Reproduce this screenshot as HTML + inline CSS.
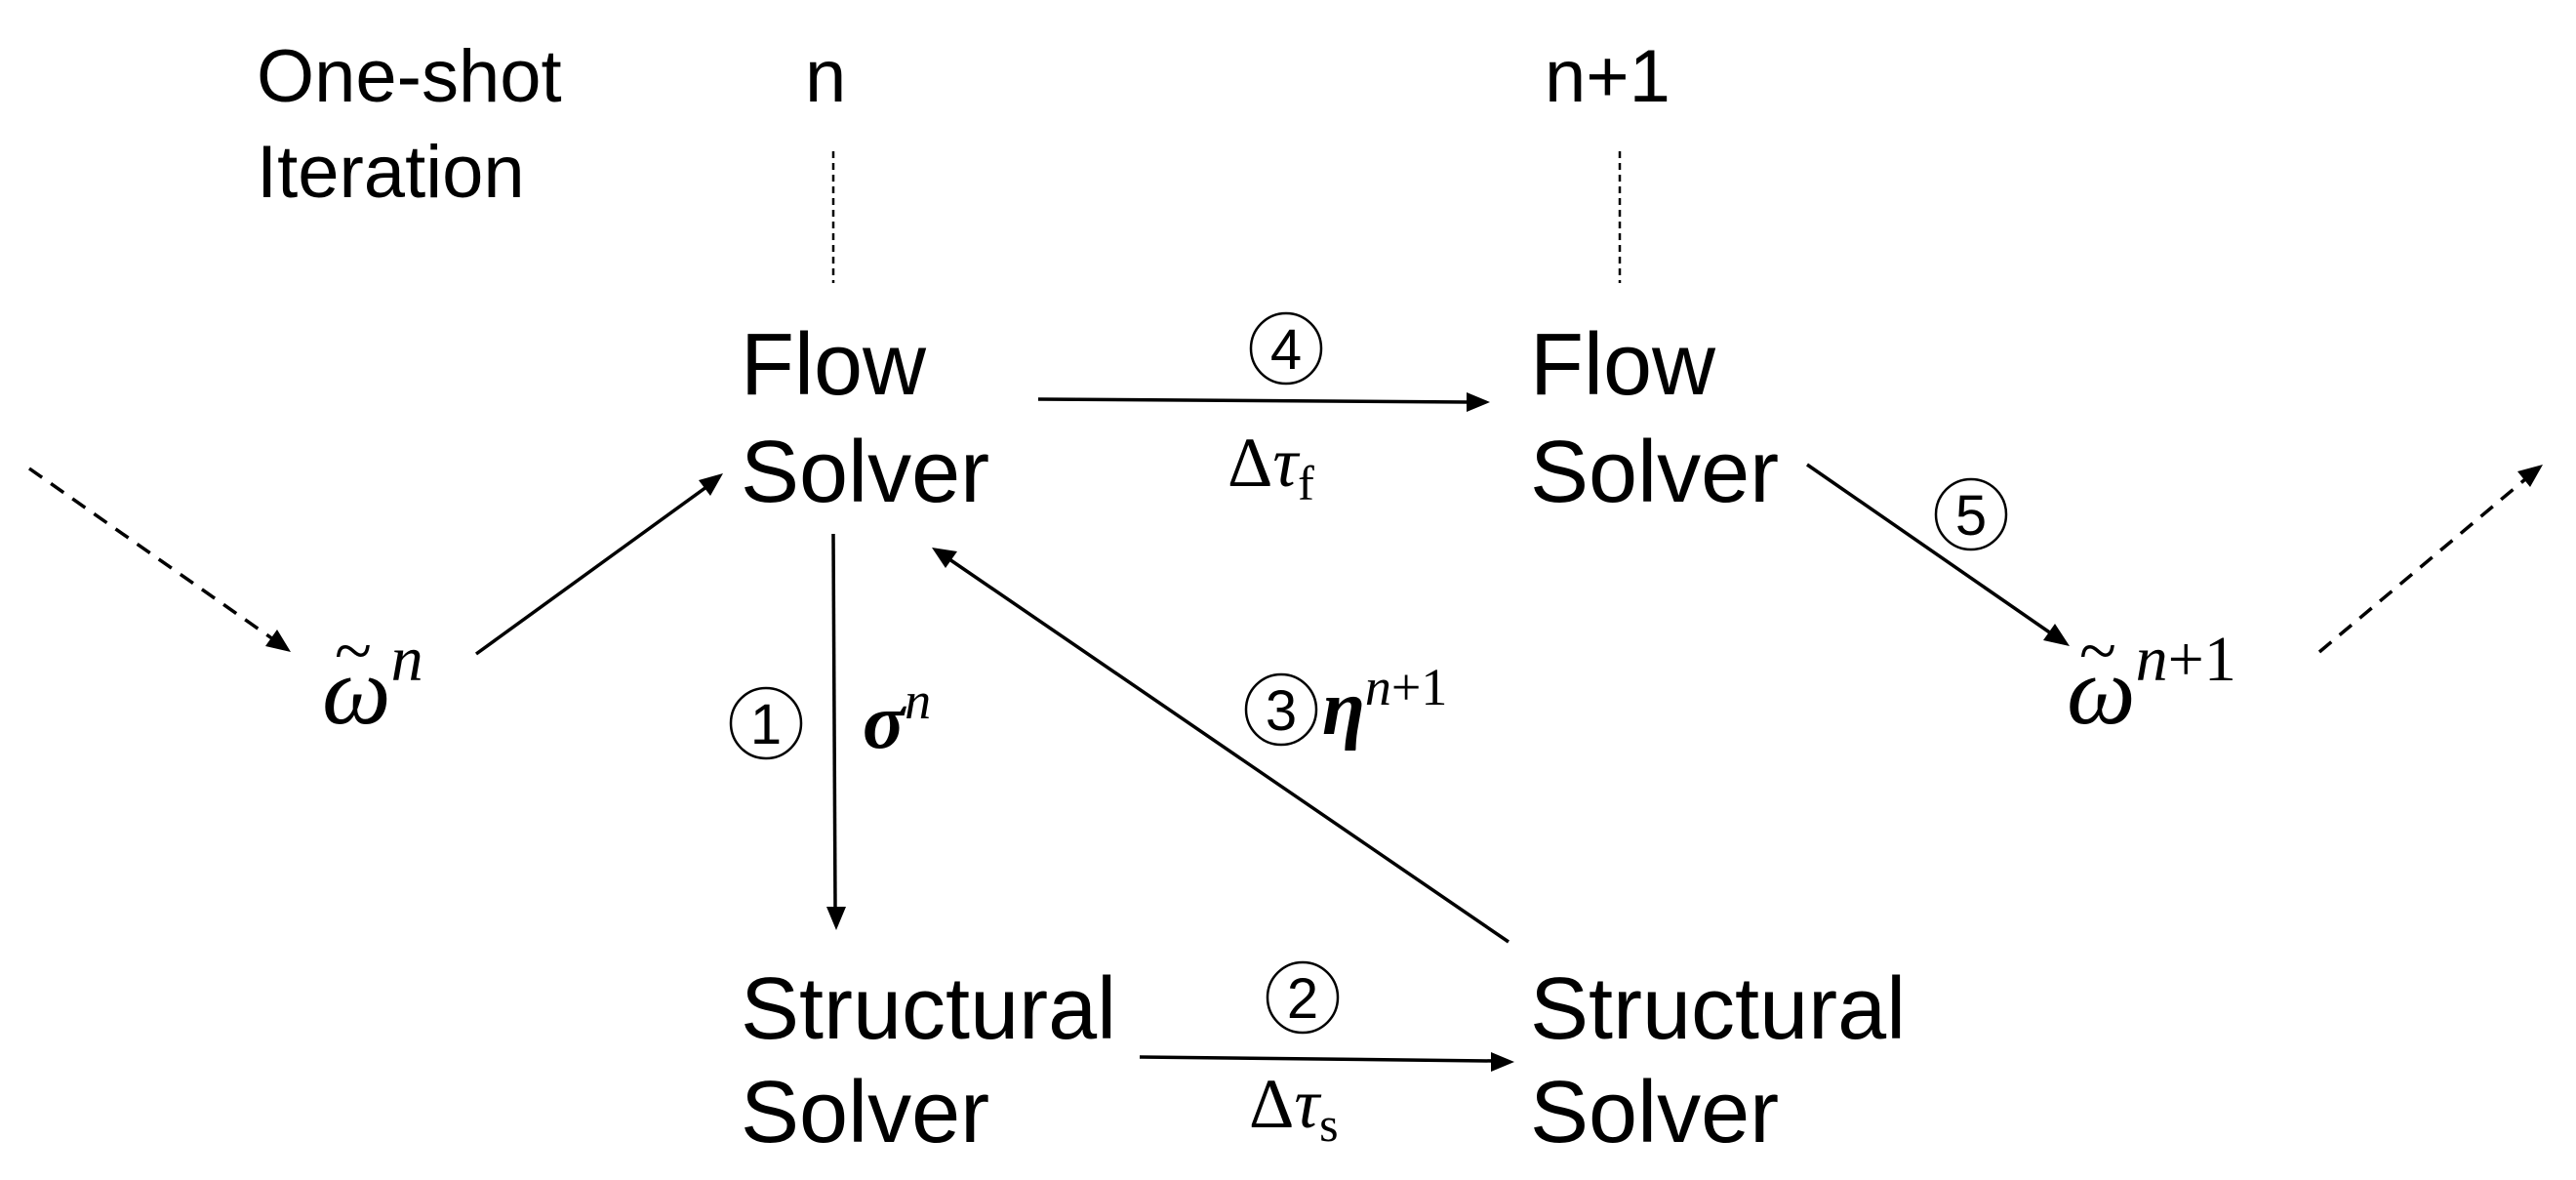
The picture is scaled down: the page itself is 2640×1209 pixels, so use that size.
<!DOCTYPE html>
<html><head><meta charset="utf-8"><style>
html,body{margin:0;padding:0;background:#fff;}
svg{display:block;}
.s{font-family:"Liberation Sans",sans-serif;fill:#000;}
.m{font-family:"Liberation Serif",serif;font-style:italic;fill:#000;}
</style></head><body>
<svg width="2640" height="1209" viewBox="0 0 2640 1209" xmlns="http://www.w3.org/2000/svg">
<defs>
<marker id="a" markerWidth="10" markerHeight="10" refX="9" refY="5" orient="auto" markerUnits="userSpaceOnUse" viewBox="0 0 10 10" style="overflow:visible">
</marker>
</defs>
<g class="s" font-size="76">
<text x="263" y="104">One-shot</text>
<text x="263" y="202">Iteration</text>
<text x="825" y="104">n</text>
<text x="1583" y="104">n+1</text>
</g>
<g stroke="#000" stroke-width="2.5" stroke-dasharray="7,5">
<line x1="854" y1="155" x2="854" y2="290"/>
<line x1="1660" y1="155" x2="1660" y2="290"/>
</g>
<g class="s" font-size="90">
<text x="759" y="404">Flow</text>
<text x="759" y="514">Solver</text>
<text x="1568" y="404">Flow</text>
<text x="1568" y="514">Solver</text>
<text x="759" y="1064">Structural</text>
<text x="759" y="1170">Solver</text>
<text x="1568" y="1064">Structural</text>
<text x="1568" y="1170">Solver</text>
</g>
<!-- solid arrows -->
<g stroke="#000" stroke-width="3.5" fill="none">
<line x1="1064" y1="409" x2="1505" y2="412"/>
<line x1="1168" y1="1083" x2="1530" y2="1087"/>
<line x1="854" y1="547" x2="856" y2="930"/>
<line x1="1546" y1="965" x2="973" y2="573"/>
<line x1="488" y1="670" x2="724" y2="499"/>
<line x1="1852" y1="476" x2="2102" y2="649"/>
</g>
<g stroke="#000" stroke-width="3.5" fill="none" stroke-dasharray="16,11">
<line x1="30" y1="480" x2="280" y2="655"/>
<line x1="2377" y1="668" x2="2588" y2="491"/>
</g>
<g fill="#000">
<polygon points="1527,412 1503,402 1503,422"/>
<polygon points="1552,1088 1528,1078 1528,1098"/>
<polygon points="857,953 847,929 867,929"/>
<polygon points="955,561 981,565 969,582"/>
<polygon points="741,485 716,492 728,508"/>
<polygon points="2121,662 2094,656 2106,639"/>
<polygon points="298,668 272,662 284,645"/>
<polygon points="2606,476 2593,499 2580,483"/>
</g>
<!-- circled numbers -->
<g stroke="#000" stroke-width="2.5" fill="none">
<circle cx="785" cy="741" r="36"/>
<circle cx="1335" cy="1022" r="36"/>
<circle cx="1313" cy="727" r="36"/>
<circle cx="1318" cy="357" r="36"/>
<circle cx="2020" cy="527" r="36"/>
</g>
<g class="s" font-size="58" text-anchor="middle">
<text x="785" y="762">1</text>
<text x="1335" y="1043">2</text>
<text x="1313" y="748">3</text>
<text x="1318" y="378">4</text>
<text x="2020" y="548">5</text>
</g>
<!-- math labels -->
<g class="m">
<text x="1258" y="498" font-size="72" style="font-style:normal">Δ<tspan style="font-style:italic">τ</tspan><tspan font-size="50" dy="14">f</tspan></text>
<text x="1280" y="1155" font-size="72" style="font-style:normal">Δ<tspan style="font-style:italic">τ</tspan><tspan font-size="50" dy="14">s</tspan></text>
<text x="884" y="766" font-size="80" font-weight="bold">σ<tspan font-size="54" font-weight="normal" dy="-30">n</tspan></text>
<text x="1355" y="752" font-size="80" font-weight="bold">η<tspan font-size="54" font-weight="normal" dy="-30" style="font-style:italic">n</tspan><tspan font-size="54" font-weight="normal" style="font-style:normal">+1</tspan></text>
<text x="330" y="741" font-size="100">ω<tspan font-size="66" dy="-44">n</tspan></text>
<text x="343" y="690" font-size="70" style="font-style:normal">~</text>
<text x="2118" y="741" font-size="100">ω<tspan font-size="66" dy="-44">n</tspan><tspan font-size="66" style="font-style:normal">+1</tspan></text>
<text x="2131" y="690" font-size="70" style="font-style:normal">~</text>
</g>
</svg>
</body></html>
